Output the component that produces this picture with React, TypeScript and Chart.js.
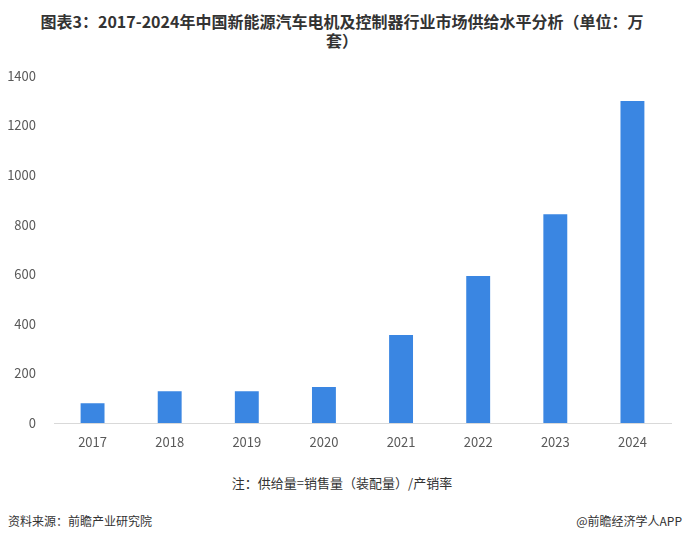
import React, { useEffect, useRef } from "react";
import { Chart, registerables } from "chart.js";

Chart.register(...registerables);

const categories = ["2017", "2018", "2019", "2020", "2021", "2022", "2023", "2024"];
const supplyValues = [80, 128, 128, 145, 355, 593, 842, 1298];
const yTicks = [0, 200, 400, 600, 800, 1000, 1200, 1400];

const FONT = '"Noto Sans CJK SC", "Noto Sans", sans-serif';

export default function App() {
  const ref = useRef<HTMLCanvasElement | null>(null);

  useEffect(() => {
    if (!ref.current) return;
    const chart = new Chart(ref.current, {
      type: "bar",
      data: {
        labels: categories,
        datasets: [
          {
            label: "供给量",
            data: supplyValues,
            backgroundColor: "#3A86E2",
            barPercentage: 0.31,
            categoryPercentage: 1,
          },
        ],
      },
      options: {
        animation: false,
        responsive: false,
        maintainAspectRatio: false,
        layout: { padding: { top: 8, right: 13, left: 0, bottom: 0 } },
        plugins: {
          legend: { display: false },
          tooltip: { enabled: false },
        },
        scales: {
          x: {
            grid: { display: false },
            border: { display: true, color: "#D9D9D9", width: 1 },
            ticks: { color: "#595959", font: { family: FONT, size: 13 }, padding: 3 },
            afterFit: (s: any) => {
              s.height = 37;
            },
          },
          y: {
            min: 0,
            max: 1400,
            afterBuildTicks: (s: any) => {
              s.ticks = yTicks.map((v) => ({ value: v }));
            },
            grid: { display: false },
            border: { display: false },
            ticks: {
              color: "#595959",
              font: { family: FONT, size: 13 },
              padding: 10,
              callback: (v: any) => String(v),
            },
            afterFit: (s: any) => {
              s.width = 54;
            },
          },
        },
      },
    });
    return () => chart.destroy();
  }, []);

  return (
    <div
      style={{
        position: "absolute",
        left: 0,
        top: 0,
        width: 684,
        height: 543,
        background: "#fff",
        fontFamily: FONT,
        overflow: "hidden",
      }}
    >
      <div
        style={{
          position: "absolute",
          top: 12,
          left: 0,
          width: 684,
          textAlign: "center",
          fontWeight: "bold",
          fontSize: 16,
          lineHeight: "19px",
          color: "#333",
        }}
      >
        图表3：2017-2024年中国新能源汽车电机及控制器行业市场供给水平分析（单位：万
        <br />
        套）
      </div>
      <canvas
        ref={ref}
        width={684}
        height={402}
        style={{ position: "absolute", top: 58, left: 0, width: 684, height: 402 }}
      />
      <div
        style={{
          position: "absolute",
          top: 474,
          left: 0,
          width: 684,
          textAlign: "center",
          fontSize: 13,
          lineHeight: "18px",
          color: "#333",
        }}
      >
        注：供给量=销售量（装配量）/产销率
      </div>
      <div
        style={{
          position: "absolute",
          top: 512,
          left: 8,
          fontSize: 12,
          lineHeight: "18px",
          color: "#333",
        }}
      >
        资料来源：前瞻产业研究院
      </div>
      <div
        style={{
          position: "absolute",
          top: 512,
          right: 2,
          fontSize: 12,
          lineHeight: "18px",
          color: "#333",
        }}
      >
        @前瞻经济学人APP
      </div>
    </div>
  );
}
